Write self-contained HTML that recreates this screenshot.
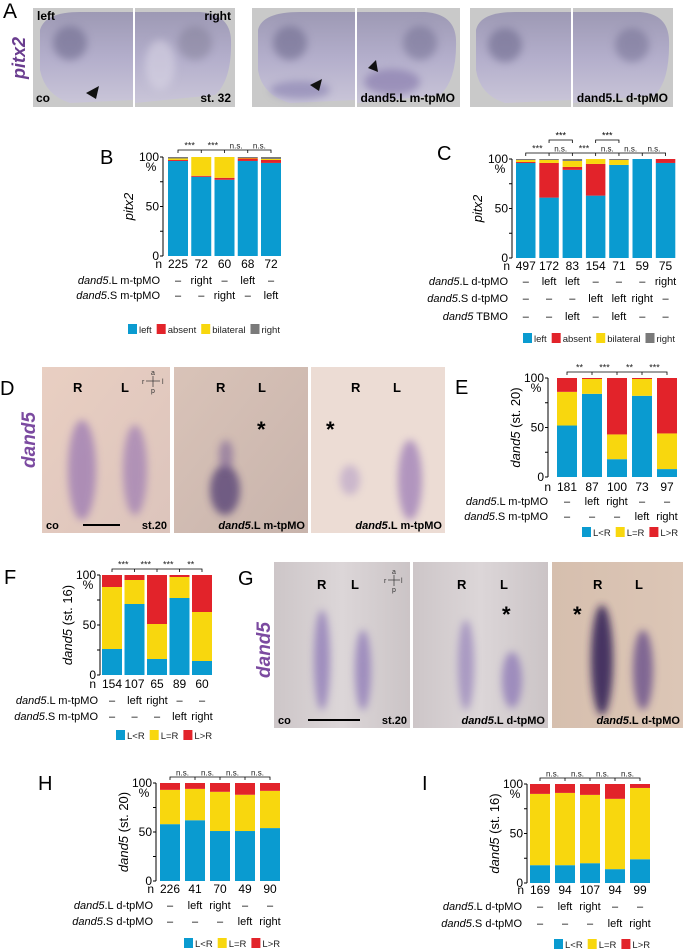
<!DOCTYPE html>
<html><head><meta charset="utf-8"><style>
html,body{margin:0;padding:0;background:#fff;}
svg{display:block;font-family:"Liberation Sans",Arial,sans-serif;}
</style></head><body>
<svg id="fig" width="685" height="950" viewBox="0 0 685 950" xmlns="http://www.w3.org/2000/svg">
<defs>
<filter id="bl" x="-50%" y="-50%" width="200%" height="200%"><feGaussianBlur stdDeviation="4"/></filter>
<filter id="bl3" x="-50%" y="-50%" width="200%" height="200%"><feGaussianBlur stdDeviation="2"/></filter>
<linearGradient id="gE" x1="0" y1="0" x2="0" y2="1"><stop offset="0" stop-color="#9d99b4"/><stop offset="0.5" stop-color="#b3aecb"/><stop offset="1" stop-color="#c9c5d8"/></linearGradient>
<linearGradient id="gD" x1="0" y1="0" x2="1" y2="1"><stop offset="0" stop-color="#e9cfc2"/><stop offset="1" stop-color="#dcc4bc"/></linearGradient>
<linearGradient id="gD2" x1="0" y1="0" x2="1" y2="1"><stop offset="0" stop-color="#d9c3b8"/><stop offset="1" stop-color="#c8b4ac"/></linearGradient>
<linearGradient id="gG" x1="0" y1="0" x2="1" y2="0"><stop offset="0" stop-color="#cdc6c8"/><stop offset="0.5" stop-color="#dcd6d8"/><stop offset="1" stop-color="#cbc4c6"/></linearGradient>
<linearGradient id="gG3" x1="0" y1="0" x2="1" y2="0"><stop offset="0" stop-color="#d6bfae"/><stop offset="1" stop-color="#dcc6b6"/></linearGradient>
</defs>

<!-- Panel A photos -->
<g>
<text x="3" y="18" font-size="21">A</text>
<text transform="translate(25,58) rotate(-90)" text-anchor="middle" font-size="18" font-weight="bold" font-style="italic" fill="#6a3d8f">pitx2</text>
<g>
<rect x="33" y="8" width="100" height="99" fill="#c9c9c9"/><rect x="135" y="8" width="100" height="99" fill="#c9c9c9"/>
<path d="M40,30 Q45,12 80,12 L133,12 L133,100 L70,103 Q45,95 40,70 Z" fill="url(#gE)"/>
<path d="M135,12 L200,12 Q230,14 231,40 Q232,80 215,95 L135,103 Z" fill="url(#gE)"/>
<ellipse cx="70" cy="43" rx="17" ry="17" fill="#6e6a8e" opacity="0.6" filter="url(#bl)"/>
<ellipse cx="195" cy="43" rx="17" ry="17" fill="#7d7992" opacity="0.45" filter="url(#bl)"/>
<ellipse cx="160" cy="65" rx="15" ry="25" fill="#d8d4e4" opacity="0.6" filter="url(#bl)"/>
<text x="37" y="20" font-size="12" font-weight="bold">left</text><text x="231" y="20" font-size="12" font-weight="bold" text-anchor="end">right</text>
<text x="36" y="102" font-size="12" font-weight="bold">co</text><text x="231" y="102" font-size="12" font-weight="bold" text-anchor="end">st. 32</text>
<polygon points="86,93 99,86 96,99" fill="#111"/>
</g>
<g>
<rect x="252" y="8" width="103" height="99" fill="#c9c9c9"/><rect x="357" y="8" width="103" height="99" fill="#c9c9c9"/>
<path d="M258,30 Q262,12 300,12 L355,12 L355,100 L290,103 Q262,95 258,70 Z" fill="url(#gE)"/>
<path d="M357,12 L425,12 Q455,14 456,40 Q457,80 440,95 L357,103 Z" fill="url(#gE)"/>
<ellipse cx="290" cy="43" rx="17" ry="17" fill="#6e6a8e" opacity="0.6" filter="url(#bl)"/>
<ellipse cx="420" cy="43" rx="17" ry="17" fill="#6e6a8e" opacity="0.5" filter="url(#bl)"/>
<ellipse cx="300" cy="90" rx="30" ry="9" fill="#7a72a8" opacity="0.5" filter="url(#bl)"/>
<ellipse cx="392" cy="82" rx="28" ry="13" fill="#7d6ea6" opacity="0.55" filter="url(#bl)"/>
<polygon points="310,85 322,79 319,91" fill="#111"/><polygon points="368,68 376,60 378,72" fill="#111"/>
<text x="455" y="102" font-size="12" font-weight="bold" text-anchor="end">dand5.L m-tpMO</text>
</g>
<g>
<rect x="470" y="8" width="101" height="99" fill="#c9c9c9"/><rect x="573" y="8" width="100" height="99" fill="#c9c9c9"/>
<path d="M476,30 Q480,12 515,12 L571,12 L571,100 L505,103 Q480,95 476,70 Z" fill="url(#gE)"/>
<path d="M573,12 L640,12 Q668,14 669,40 Q670,80 655,95 L573,103 Z" fill="url(#gE)"/>
<ellipse cx="505" cy="45" rx="17" ry="17" fill="#6e6a8e" opacity="0.6" filter="url(#bl)"/>
<ellipse cx="632" cy="45" rx="17" ry="17" fill="#6e6a8e" opacity="0.5" filter="url(#bl)"/>
<text x="668" y="102" font-size="12" font-weight="bold" text-anchor="end">dand5.L d-tpMO</text>
</g>
</g>

<!-- Panel D photos -->
<g>
<text x="0" y="395" font-size="20">D</text>
<text transform="translate(35,440) rotate(-90)" text-anchor="middle" font-size="19" font-weight="bold" font-style="italic" fill="#7b4aa0">dand5</text>
<rect x="42" y="367" width="128" height="166" fill="url(#gD)"/>
<rect x="174" y="367" width="134" height="166" fill="url(#gD2)"/>
<rect x="311" y="367" width="134" height="166" fill="#ecdcd4"/>
<ellipse cx="82" cy="470" rx="14" ry="50" fill="#8a66b0" opacity="0.6" filter="url(#bl)"/>
<ellipse cx="135" cy="470" rx="12" ry="45" fill="#8a66b0" opacity="0.55" filter="url(#bl)"/>
<ellipse cx="225" cy="490" rx="15" ry="25" fill="#4a3570" opacity="0.7" filter="url(#bl)"/>
<ellipse cx="226" cy="455" rx="7" ry="15" fill="#6a5090" opacity="0.5" filter="url(#bl)"/>
<ellipse cx="410" cy="480" rx="12" ry="40" fill="#8a66b0" opacity="0.6" filter="url(#bl)"/>
<ellipse cx="350" cy="480" rx="10" ry="15" fill="#9a80c0" opacity="0.4" filter="url(#bl)"/>
<g font-size="13" font-weight="bold"><text x="73" y="392">R</text><text x="121" y="392">L</text><text x="216" y="392">R</text><text x="258" y="392">L</text><text x="351" y="392">R</text><text x="393" y="392">L</text></g>
<text x="257" y="437" font-size="22" font-weight="bold">*</text><text x="326" y="437" font-size="22" font-weight="bold">*</text>
<g font-size="11" font-weight="bold"><text x="46" y="529">co</text><text x="167" y="529" text-anchor="end">st.20</text>
<text x="305" y="529" text-anchor="end"><tspan font-style="italic">dand5</tspan>.L m-tpMO</text>
<text x="442" y="529" text-anchor="end"><tspan font-style="italic">dand5</tspan>.L m-tpMO</text></g>
<line x1="83" y1="525" x2="120" y2="525" stroke="#000" stroke-width="2"/>
<g font-size="7" fill="#333"><text x="151" y="375">a</text><text x="142" y="384">r</text><text x="162" y="384">l</text><text x="151" y="393">p</text></g>
<line x1="146" y1="381" x2="160" y2="381" stroke="#333" stroke-width="0.7"/><line x1="153" y1="376" x2="153" y2="387" stroke="#333" stroke-width="0.7"/>
</g>

<!-- Panel G photos -->
<g>
<text x="238" y="585" font-size="20">G</text>
<text transform="translate(270,650) rotate(-90)" text-anchor="middle" font-size="19" font-weight="bold" font-style="italic" fill="#7b4aa0">dand5</text>
<rect x="274" y="562" width="136" height="166" fill="url(#gG)"/>
<rect x="413" y="562" width="135" height="166" fill="url(#gG)"/>
<rect x="552" y="562" width="131" height="166" fill="url(#gG3)"/>
<ellipse cx="322" cy="660" rx="8" ry="50" fill="#7a62b0" opacity="0.6" filter="url(#bl)"/>
<ellipse cx="363" cy="670" rx="8" ry="40" fill="#7a62b0" opacity="0.6" filter="url(#bl)"/>
<ellipse cx="466" cy="665" rx="8" ry="45" fill="#7a62b0" opacity="0.5" filter="url(#bl)"/>
<ellipse cx="512" cy="680" rx="10" ry="28" fill="#7a62b0" opacity="0.6" filter="url(#bl)"/>
<ellipse cx="602" cy="660" rx="11" ry="55" fill="#2f1f55" opacity="0.85" filter="url(#bl)"/>
<ellipse cx="643" cy="670" rx="10" ry="40" fill="#5a3f85" opacity="0.7" filter="url(#bl)"/>
<g font-size="13" font-weight="bold"><text x="317" y="589">R</text><text x="351" y="589">L</text><text x="457" y="589">R</text><text x="500" y="589">L</text><text x="593" y="589">R</text><text x="635" y="589">L</text></g>
<text x="502" y="622" font-size="22" font-weight="bold">*</text><text x="573" y="622" font-size="22" font-weight="bold">*</text>
<g font-size="11" font-weight="bold"><text x="278" y="724">co</text><text x="407" y="724" text-anchor="end">st.20</text>
<text x="545" y="724" text-anchor="end"><tspan font-style="italic">dand5</tspan>.L d-tpMO</text>
<text x="680" y="724" text-anchor="end"><tspan font-style="italic">dand5</tspan>.L d-tpMO</text></g>
<line x1="308" y1="720" x2="360" y2="720" stroke="#000" stroke-width="2"/>
<g font-size="7" fill="#333"><text x="392" y="574">a</text><text x="384" y="583">r</text><text x="401" y="583">l</text><text x="392" y="592">p</text></g>
<line x1="388" y1="580" x2="400" y2="580" stroke="#333" stroke-width="0.7"/><line x1="394" y1="575" x2="394" y2="586" stroke="#333" stroke-width="0.7"/>
</g>

<g font-size="20">
<text x="100" y="164">B</text>
<text x="437" y="160">C</text>
<text x="455" y="394">E</text>
<text x="4" y="584">F</text>
<text x="38" y="790">H</text>
<text x="422" y="790">I</text>
</g>
<g id="charts"></g>
</svg>
<script>
// ---- Data ----
const bCategories = ["225","72","60","68","72"];
const bLeft = [96,80,77,96,94];
const bAbsent = [1,1,2,2.5,3];
const bBilateral = [1.5,19,21,0.5,1];
const bRight = [1.5,0,0,1,2];
const bRows = [["–","right","–","left","–"],["–","–","right","–","left"]];
const bSig = ["***","***","n.s.","n.s."];

const cCategories = ["497","172","83","154","71","59","75"];
const cLeft = [96,61,89,63,94,100,96];
const cAbsent = [1,35,3,32,0,0,4];
const cBilateral = [2,3,6,5,5,0,0];
const cRight = [1,1,2,0,1,0,0];
const cRows = [["–","left","left","–","–","–","right"],["–","–","–","left","left","right","–"],["–","–","left","–","left","–","–"]];
const cSig = ["***","n.s.","***","n.s.","n.s.","n.s."];

const eCategories = ["181","87","100","73","97"];
const eLR = [52,84,18,82,8];
const eEq = [34,15,25,17,36];
const eGR = [14,1,57,1,56];
const eRows = [["–","left","right","–","–"],["–","–","–","left","right"]];
const eSig = ["**","***","**","***"];

const fCategories = ["154","107","65","89","60"];
const fLR = [26,71,16,77,14];
const fEq = [62,24,35,21,49];
const fGR = [12,5,49,2,37];
const fRows = [["–","left","right","–","–"],["–","–","–","left","right"]];
const fSig = ["***","***","***","**"];

const hCategories = ["226","41","70","49","90"];
const hLR = [58,62,51,51,54];
const hEq = [35,32,40,37,38];
const hGR = [7,6,9,12,8];
const hRows = [["–","left","right","–","–"],["–","–","–","left","right"]];
const hSig = ["n.s.","n.s.","n.s.","n.s."];

const iCategories = ["169","94","107","94","99"];
const iLR = [18,18,20,14,24];
const iEq = [72,73,69,71,72];
const iGR = [10,9,11,15,4];
const iRows = [["–","left","right","–","–"],["–","–","–","left","right"]];
const iSig = ["n.s.","n.s.","n.s.","n.s."];

const yTicks = [0,25,50,75,100];
const yTickLabels = ["0","","50","","100"];

const BLUE="#0a9bd0", RED="#e2232a", YEL="#f8d70e", GREY="#7a7a7a";
const NS="http://www.w3.org/2000/svg";
const root=document.getElementById('charts');
function mk(tag,attrs,parent){const e=document.createElementNS(NS,tag);for(const k in attrs)e.setAttribute(k,attrs[k]);(parent||root).appendChild(e);return e;}
function txt(x,y,s,size,anchor,parent,extra){const t=mk('text',Object.assign({x:x,y:y,'font-size':size,'text-anchor':anchor||'start'},extra||{}),parent);t.textContent=s;return t;}

function chart(id,g,cats,series,colors,rows,rowNames,sig,legendNames,yTitle){
  const grp=mk('g',{});
  
  
  const ys=v=>g.y0-(g.y0-g.y100)*v/100;
  const xs=i=>g.x0+g.pitch*i;
  const ax=mk('line',{x1:g.ax,y1:g.y100,x2:g.ax,y2:g.y0,stroke:'#000','stroke-width':1},grp);
  
  
  yTicks.forEach((t,k)=>{
    mk('line',{x1:g.ax-3,y1:ys(t),x2:g.ax,y2:ys(t),stroke:'#000','stroke-width':1},grp);
    if(yTickLabels[k]){const l=txt(g.ax-4,ys(t)+4,yTickLabels[k],12,'end',grp);
      
      }
  });
  txt(g.ax-12,ys(100)+14,'%',12,'middle',grp);
  const tt=mk('text',{transform:`translate(${g.ax-g.tOff},${(g.y0+g.y100)/2}) rotate(-90)`,'text-anchor':'middle','font-size':13},grp);
  
  
  const ti=mk('tspan',{'font-style':'italic'},tt);ti.textContent=yTitle[0];
  if(yTitle[1]){const t2=mk('tspan',{},tt);t2.textContent=yTitle[1];}
  cats.forEach((c,i)=>{
    let acc=0;
    series.forEach((s,k)=>{
      const v=s[i]; if(v<=0){return;}
      const r=mk('rect',{x:xs(i),y:ys(acc+v),width:g.bw,height:ys(acc)-ys(acc+v),fill:colors[k]},grp);
      
      
      acc+=v;
    });
    const n=txt(xs(i)+g.bw/2,g.nY+4,c,12,'middle',grp);
    
    
  });
  txt(xs(0)-6,g.nY+4,'n',12,'end',grp);
  rows.forEach((r,j)=>{
    const lab=mk('text',{x:g.labelX,y:g.rowsY[j]+4,'font-size':11,'text-anchor':'end'},grp);
    
    
    const a=mk('tspan',{'font-style':'italic'},lab);a.textContent=rowNames[j][0];
    const b=mk('tspan',{},lab);b.textContent=rowNames[j][1];
    r.forEach((v,i)=>{txt(xs(i)+g.bw/2,g.rowsY[j]+4,v,11,'middle',grp);});
  });
  const bx1=xs(0)+g.bw/2, bx2=xs(cats.length-1)+g.bw/2;
  const br=mk('path',{d:`M${bx1},${g.brY+3}V${g.brY}H${bx2}V${g.brY+3}`,fill:'none',stroke:'#000','stroke-width':0.8},grp);
  
  
  for(let i=1;i<cats.length-1;i++) mk('line',{x1:xs(i)+g.bw/2,y1:g.brY,x2:xs(i)+g.bw/2,y2:g.brY+3,stroke:'#000','stroke-width':0.8},grp);
  sig.forEach((s,i)=>{const x=(xs(i)+xs(i+1))/2+g.bw/2;
    const t=txt(x,g.brY-1.5,s,s==='n.s.'?8:9,'middle',grp,{fill:'#222'});
    
    });
  if(g.upper){g.upper.forEach(u=>{const a=xs(u[0])+g.bw/2,b=xs(u[1])+g.bw/2;
    mk('path',{d:`M${a},${g.upY+3}V${g.upY}H${b}V${g.upY+3}`,fill:'none',stroke:'#000','stroke-width':0.8},grp);
    txt((a+b)/2,g.upY-1.5,u[2],9,'middle',grp);});}
  let lx=g.legX;
  legendNames.forEach((nm,k)=>{
    const sw=mk('rect',{x:lx,y:g.legY-5,width:9,height:10,fill:colors[k]},grp);
    
    
    const t=txt(lx+11,g.legY+4,nm,9.5,'start',grp,{fill:'#222'});
    
    
    lx+=11+t.getComputedTextLength()+5;
  });
}
const LRnames=["L<R","L=R","L>R"];
const pNames=["left","absent","bilateral","right"];
chart('b',{ax:163,x0:168,pitch:23.25,bw:20,y100:157,y0:256,nY:264,rowsY:[280,295],labelX:160,legY:329,legX:128,brY:150,tOff:30},
  bCategories,[bLeft,bAbsent,bBilateral,bRight],[BLUE,RED,YEL,GREY],bRows,[["dand5",".L m-tpMO"],["dand5",".S m-tpMO"]],bSig,pNames,["pitx2"]);
chart('c',{ax:512,x0:516,pitch:23.3,bw:19.5,y100:159,y0:258,nY:266,rowsY:[281,298,316],labelX:508,legY:338,legX:523,brY:153,tOff:30,upY:140,upper:[[1,2,"***"],[3,4,"***"]]},
  cCategories,[cLeft,cAbsent,cBilateral,cRight],[BLUE,RED,YEL,GREY],cRows,[["dand5",".L d-tpMO"],["dand5",".S d-tpMO"],["dand5"," TBMO"]],cSig,pNames,["pitx2"]);
chart('e',{ax:548,x0:557,pitch:25,bw:20,y100:378,y0:477,nY:487,rowsY:[501,516],labelX:548,legY:532,legX:582,brY:372,tOff:28},
  eCategories,[eLR,eEq,eGR],[BLUE,YEL,RED],eRows,[["dand5",".L m-tpMO"],["dand5",".S m-tpMO"]],eSig,LRnames,["dand5"," (st. 20)"]);
chart('f',{ax:100,x0:102,pitch:22.5,bw:20,y100:575,y0:675,nY:684,rowsY:[700,716],labelX:98,legY:735,legX:116,brY:569,tOff:28},
  fCategories,[fLR,fEq,fGR],[BLUE,YEL,RED],fRows,[["dand5",".L m-tpMO"],["dand5",".S m-tpMO"]],fSig,LRnames,["dand5"," (st. 16)"]);
chart('h',{ax:156,x0:160,pitch:25,bw:20,y100:783,y0:881,nY:889,rowsY:[905,921],labelX:153,legY:943,legX:184,brY:777,tOff:28},
  hCategories,[hLR,hEq,hGR],[BLUE,YEL,RED],hRows,[["dand5",".L d-tpMO"],["dand5",".S d-tpMO"]],hSig,LRnames,["dand5"," (st. 20)"]);
chart('i',{ax:527,x0:530,pitch:25,bw:20,y100:784,y0:883,nY:890,rowsY:[906,923],labelX:522,legY:944,legX:554,brY:778,tOff:28},
  iCategories,[iLR,iEq,iGR],[BLUE,YEL,RED],iRows,[["dand5",".L d-tpMO"],["dand5",".S d-tpMO"]],iSig,LRnames,["dand5"," (st. 16)"]);
</script>
</body></html>
